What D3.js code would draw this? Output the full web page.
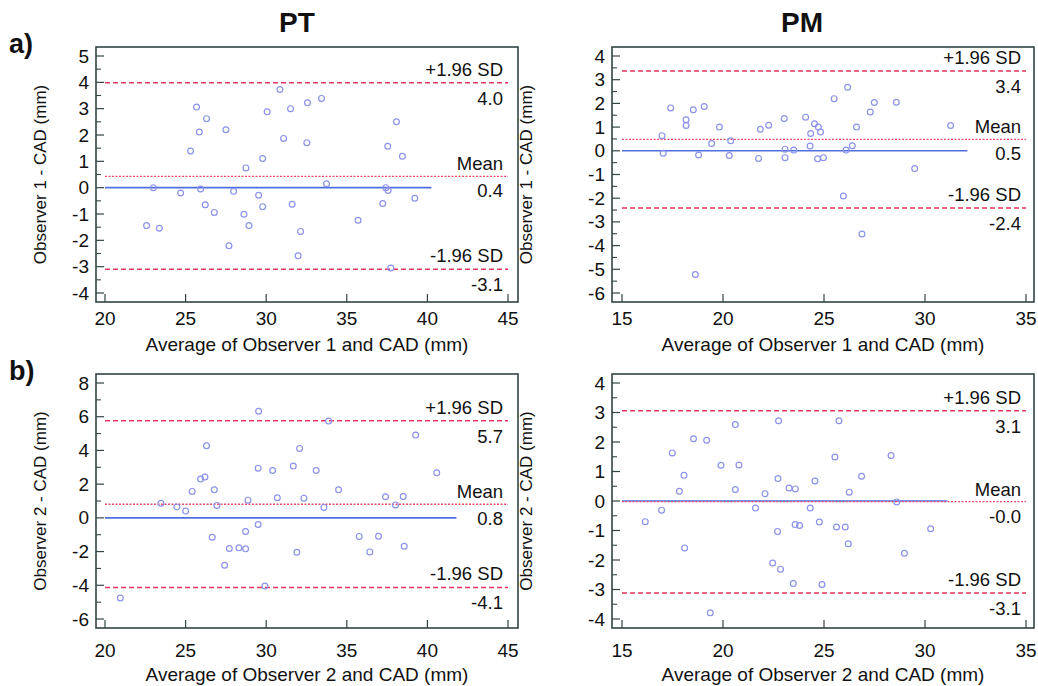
<!DOCTYPE html>
<html><head><meta charset="utf-8">
<script src="https://cdn.jsdelivr.net/npm/d3@7"></script>
<style>body{margin:0;background:#fff}svg{display:block}text{font-family:"Liberation Sans",Arial,sans-serif}</style>
</head><body>
<svg id="c" width="1038" height="686"></svg>
<script>
// ---- Data: PT, Observer 1 vs CAD ----
const ptObs1Avg  = [22.58,23.37,23.0,24.69,25.31,25.68,25.85,25.93,26.3,26.22,26.78,27.5,27.69,27.98,28.74,28.62,28.93,29.53,29.78,29.78,30.06,30.85,31.08,31.51,31.61,32.13,31.98,32.56,32.52,33.43,33.74,35.7,38.08,37.54,38.45,37.42,37.56,37.23,39.22,37.73];
const ptObs1Diff = [-1.44,-1.54,0.0,-0.2,1.39,3.06,2.11,-0.05,2.62,-0.65,-0.94,2.2,-2.21,-0.14,0.75,-1.01,-1.44,-0.29,1.11,-0.72,2.88,3.73,1.87,3.0,-0.63,-1.66,-2.59,3.22,1.71,3.39,0.15,-1.24,2.5,1.57,1.19,0.0,-0.11,-0.6,-0.4,-3.05];
// ---- PM, Observer 1 vs CAD ----
const pmObs1Avg  = [16.98,17.04,17.41,18.17,18.17,18.53,18.63,18.79,19.07,19.44,19.82,20.31,20.38,21.76,21.85,22.26,23.03,23.07,23.07,23.5,24.09,24.31,24.34,24.53,24.72,24.83,24.68,24.97,25.5,25.96,26.09,26.17,26.4,26.61,26.88,27.29,27.49,28.58,29.49,31.27];
const pmObs1Diff = [0.64,-0.1,1.81,1.31,1.07,1.73,-5.22,-0.18,1.87,0.31,1.0,-0.2,0.42,-0.32,0.91,1.08,1.36,0.07,-0.29,0.03,1.42,0.2,0.73,1.14,1.0,0.79,-0.34,-0.29,2.2,-1.91,0.03,2.68,0.21,1.0,-3.51,1.64,2.04,2.05,-0.75,1.07];
// ---- PT, Observer 2 vs CAD ----
const ptObs2Avg  = [20.95,23.47,24.46,25.0,25.41,25.93,26.2,26.3,26.65,26.78,26.94,27.42,27.71,28.31,28.72,28.72,28.87,29.5,29.53,29.5,29.92,30.4,30.69,31.68,31.9,32.07,32.34,33.1,33.58,33.87,34.49,35.77,36.43,36.97,37.4,38.02,38.5,38.56,39.27,40.58];
const ptObs2Diff = [-4.75,0.87,0.65,0.4,1.57,2.3,2.42,4.28,-1.15,1.66,0.74,-2.81,-1.82,-1.78,-0.81,-1.84,1.05,-0.39,6.32,2.95,-4.04,2.81,1.19,3.07,-2.04,4.12,1.17,2.81,0.62,5.74,1.66,-1.1,-2.02,-1.09,1.25,0.77,1.27,-1.68,4.91,2.67];
// ---- PM, Observer 2 vs CAD ----
const pmObs2Avg  = [16.15,16.96,17.49,17.84,18.07,18.1,18.54,19.19,19.37,19.9,20.61,20.61,20.79,21.61,22.08,22.46,22.7,22.72,22.75,22.85,23.27,23.58,23.48,23.57,23.79,24.32,24.55,24.77,24.9,25.54,25.62,25.74,26.05,26.2,26.25,26.86,28.32,28.6,28.98,30.28];
const pmObs2Diff = [-0.7,-0.31,1.63,0.33,0.87,-1.59,2.11,2.06,-3.79,1.21,2.59,0.39,1.22,-0.24,0.25,-2.1,-1.03,0.76,2.72,-2.31,0.44,0.41,-2.8,-0.8,-0.83,-0.24,0.68,-0.71,-2.83,1.49,-0.88,2.72,-0.88,-1.45,0.3,0.84,1.54,-0.03,-1.77,-0.94];

// Limits of agreement [upper, mean, lower] and their printed labels
const limitsValues = [[3.98,0.43,-3.1],[3.37,0.48,-2.41],[5.76,0.81,-4.13],[3.06,-0.02,-3.12]];
const limitsLabels = [["4.0","0.4","-3.1"],["3.4","0.5","-2.4"],["5.7","0.8","-4.1"],["3.1","-0.0","-3.1"]];
const zeroLineEnd  = [40.25,32.1,41.8,31.1];
const xDomains = [[20,45],[15,35],[20,45],[15,35]];
const yDomains = [[-4,5],[-6,4],[-6,8],[-4,4]];
const yTickStep = [1,1,2,1];
const yMinorStep = [0.5,0.5,1,0.5];
const xTitles = ["Average of Observer 1 and CAD (mm)","Average of Observer 1 and CAD (mm)","Average of Observer 2 and CAD (mm)","Average of Observer 2 and CAD (mm)"];
const yTitles = ["Observer 1 - CAD (mm)","Observer 1 - CAD (mm)","Observer 2 - CAD (mm)","Observer 2 - CAD (mm)"];
const colTitles = ["PT","PM"];
const rowTitles = ["a)","b)"];

const series = [[ptObs1Avg,ptObs1Diff],[pmObs1Avg,pmObs1Diff],[ptObs2Avg,ptObs2Diff],[pmObs2Avg,pmObs2Diff]];

// layout (pixels)
const frames = [
  {x:96, y:47, w:422, h:255},
  {x:612,y:47, w:422, h:255},
  {x:96, y:374,w:422, h:254},
  {x:612,y:374,w:422, h:254}
];
const inL=[9,10,9,10], inR=[10,8,10,8];
const tickLabDy=[23,23,29,29], titleDy=[49,49,53,53];
const yTitleDx=[50,80,50,80];

const svg = d3.select("#c");
const RED="#e8335e", PINK="#ec4a6e", BLUE="#4f6fe0", PT="#8c92ea", FR="#344444";

frames.forEach((f,i)=>{
  const g = svg.append("g");
  const x = d3.scaleLinear().domain(xDomains[i]).range([f.x+inL[i], f.x+f.w-inR[i]]);
  const y = d3.scaleLinear().domain(yDomains[i]).range([f.y+f.h-9, f.y+9]);
  g.append("rect").attr("x",f.x).attr("y",f.y).attr("width",f.w).attr("height",f.h)
    .attr("fill","none").attr("stroke",FR).attr("stroke-width",1.6);
  const [y0,y1]=yDomains[i];
  const yMaj=d3.range(y0,y1+1e-9,yTickStep[i]);
  const yMin=d3.range(y0,y1+1e-9,yMinorStep[i]).filter(v=>!yMaj.some(m=>Math.abs(m-v)<1e-9));
  g.selectAll(".ym").data(yMaj).join("line").attr("x1",f.x).attr("x2",f.x+8)
    .attr("y1",d=>y(d)).attr("y2",d=>y(d)).attr("stroke",FR).attr("stroke-width",1.2);
  g.selectAll(".yn").data(yMin).join("line").attr("x1",f.x).attr("x2",f.x+5)
    .attr("y1",d=>y(d)).attr("y2",d=>y(d)).attr("stroke",FR).attr("stroke-width",1.1);
  g.selectAll(".yl").data(yMaj).join("text").attr("x",f.x-7).attr("y",d=>y(d)+6.5)
    .attr("text-anchor","end").attr("font-size",19).attr("fill","#111").text(d=>d);
  const xMaj=d3.range(xDomains[i][0],xDomains[i][1]+1e-9,5);
  g.selectAll(".xm").data(xMaj).join("line").attr("x1",d=>x(d)).attr("x2",d=>x(d))
    .attr("y1",f.y+f.h).attr("y2",f.y+f.h-8).attr("stroke",FR).attr("stroke-width",1.2);
  g.selectAll(".xl").data(xMaj).join("text").attr("x",d=>x(d)).attr("y",f.y+f.h+tickLabDy[i])
    .attr("text-anchor","middle").attr("font-size",19).attr("fill","#111").text(d=>d);
  g.append("text").attr("x",(f.x+f.x+f.w)/2).attr("y",f.y+f.h+titleDy[i]).attr("text-anchor","middle")
    .attr("font-size",19).attr("fill","#111").text(xTitles[i]);
  const yc=f.y+f.h/2, xc=f.x-yTitleDx[i];
  g.append("text").attr("transform",`translate(${xc},${yc}) rotate(-90)`).attr("text-anchor","middle")
    .attr("font-size",17).attr("fill","#111").text(yTitles[i]);
  g.append("line").attr("x1",x(xDomains[i][0])).attr("x2",x(zeroLineEnd[i]))
    .attr("y1",y(0)).attr("y2",y(0)).attr("stroke",BLUE).attr("stroke-width",1.6);
  const [up,mn,lo]=limitsValues[i];
  const xa=x(xDomains[i][0]), xb=x(xDomains[i][1]);
  [[up,"5,3",RED,1.5],[lo,"5,3",RED,1.5],[mn,"2,1.5",PINK,1.4]].forEach(([v,da,c,w])=>{
    g.append("line").attr("x1",xa).attr("x2",xb).attr("y1",y(v)).attr("y2",y(v))
      .attr("stroke",c).attr("stroke-width",w).attr("stroke-dasharray",da);
  });
  const lab=limitsLabels[i], tx=xb-5;
  [["+1.96 SD",up,-7],[lab[0],up,22],["Mean",mn,-6],[lab[1],mn,21],["-1.96 SD",lo,-7],[lab[2],lo,22]].forEach(([t,v,dy])=>{
    g.append("text").attr("x",tx).attr("y",y(v)+dy).attr("text-anchor","end")
      .attr("font-size",18.5).attr("fill","#111").text(t);
  });
  const [xs,ys]=series[i];
  g.selectAll("circle").data(xs.map((d,k)=>[d,ys[k]])).join("circle")
    .attr("cx",d=>x(d[0])).attr("cy",d=>y(d[1])).attr("r",2.9)
    .attr("fill","none").attr("stroke",PT).attr("stroke-width",1.2);
});

svg.selectAll(".ct").data(colTitles).join("text").attr("x",(d,k)=>k?802:297).attr("y",32)
  .attr("text-anchor","middle").attr("font-size",28).attr("font-weight","bold").attr("fill","#111").text(d=>d);
svg.selectAll(".rt").data(rowTitles).join("text").attr("x",9).attr("y",(d,k)=>k?380:53)
  .attr("font-size",27).attr("font-weight","bold").attr("fill","#111").text(d=>d);
</script>
</body></html>
